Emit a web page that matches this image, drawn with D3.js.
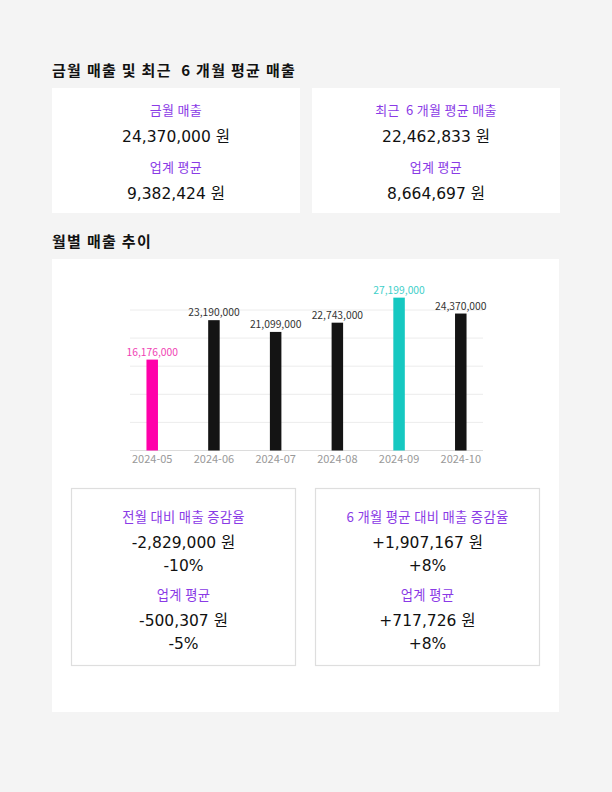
<!DOCTYPE html>
<html>
<head>
<meta charset="utf-8">
<script src="https://cdn.jsdelivr.net/npm/d3@7"></script>
<style>
  body { margin: 0; background: #f4f4f4; }
  svg { display: block; }
  text { white-space: pre; }
  .num { font-family: "DejaVu Sans", "Noto Sans CJK KR", sans-serif; fill: #111; }
  .lbl { font-family: "Noto Sans CJK KR", "DejaVu Sans", sans-serif; fill: #8a3ae6; letter-spacing: 0.3px; }
  .ttl { font-family: "Noto Sans CJK KR", sans-serif; font-weight: 700; fill: #111; letter-spacing: 1.3px; }
</style>
</head>
<body>
<svg id="page" width="612" height="792"></svg>
<script>
// monthly sales
const months = ["2024-05", "2024-06", "2024-07", "2024-08", "2024-09", "2024-10"];
const sales = [16176000, 23190000, 21099000, 22743000, 27199000, 24370000];
const gridTicks = [0, 5000000, 10000000, 15000000, 20000000, 25000000];

// summary cards (top)
const summaryLabels = ["금월 매출", "최근  6 개월 평균 매출"];
const summaryValues = ["24,370,000 원", "22,462,833 원"];
const industryValues = ["9,382,424 원", "8,664,697 원"];

// change boxes (bottom)
const changeLabels = ["전월 대비 매출 증감율", "6 개월 평균 대비 매출 증감율"];
const changeValues = ["-2,829,000 원", "+1,907,167 원"];
const changePct = ["-10%", "+8%"];
const industryChange = ["-500,307 원", "+717,726 원"];
const industryPct = ["-5%", "+8%"];

const svg = d3.select("#page");

// section titles
svg.append("text").attr("class", "ttl").attr("x", 52).attr("y", 76)
  .attr("font-size", 15).text("금월 매출 및 최근  6 개월 평균 매출");
svg.append("text").attr("class", "ttl").attr("x", 52).attr("y", 247)
  .attr("font-size", 15).text("월별 매출 추이");

// top cards
const cardX = [52, 312];
const cards = svg.selectAll(".card").data(summaryLabels).enter().append("g")
  .attr("class", "card")
  .attr("transform", (d, i) => `translate(${cardX[i]},88)`);
cards.append("rect").attr("width", 248).attr("height", 125).attr("fill", "#fff");
cards.append("text").attr("class", "lbl").attr("x", 124).attr("y", 27)
  .attr("text-anchor", "middle").attr("font-size", 13).text(d => d);
cards.append("text").attr("class", "num").attr("x", 124).attr("y", 53.5)
  .attr("text-anchor", "middle").attr("font-size", 15.5).text((d, i) => summaryValues[i]);
cards.append("text").attr("class", "lbl").attr("x", 124).attr("y", 84)
  .attr("text-anchor", "middle").attr("font-size", 13).text("업계 평균");
cards.append("text").attr("class", "num").attr("x", 124).attr("y", 110.5)
  .attr("text-anchor", "middle").attr("font-size", 15.5).text((d, i) => industryValues[i]);

// chart card
svg.append("rect").attr("x", 52).attr("y", 259).attr("width", 507).attr("height", 453)
  .attr("fill", "#fff");

const x = d3.scalePoint().domain(months).range([130, 483]).padding(0.36);
const y = d3.scaleLinear().domain([0, 25000000]).range([450.5, 310]);

const chart = svg.append("g");
chart.selectAll(".grid").data(gridTicks).enter().append("line")
  .attr("x1", 130).attr("x2", 483)
  .attr("y1", d => y(d)).attr("y2", d => y(d))
  .attr("stroke", d => d === 0 ? "#dcdcdc" : "#ececec").attr("stroke-width", 1);

const maxV = d3.max(sales), minV = d3.min(sales);
const barColor = v => v === maxV ? "#16c8c1" : v === minV ? "#ff00aa" : "#141414";
const lblColor = v => v === maxV ? "#3fcfca" : v === minV ? "#f03fb4" : "#333";

const barW = 11.5;
chart.selectAll(".bar").data(sales).enter().append("rect")
  .attr("x", (d, i) => x(months[i]) - barW / 2)
  .attr("y", d => y(d))
  .attr("width", barW)
  .attr("height", d => y(0) - y(d))
  .attr("fill", d => barColor(d));

chart.selectAll(".val").data(sales).enter().append("text")
  .attr("x", (d, i) => x(months[i]))
  .attr("y", d => y(d) - 4)
  .attr("text-anchor", "middle")
  .attr("font-family", "'Noto Sans CJK KR', 'Noto Sans', sans-serif")
  .attr("font-size", 10.3)
  .attr("fill", d => lblColor(d))
  .text(d => d3.format(",")(d));

chart.selectAll(".tick").data(months).enter().append("text")
  .attr("x", d => x(d))
  .attr("y", 463)
  .attr("text-anchor", "middle")
  .attr("font-family", "'Noto Sans CJK KR', 'Noto Sans', sans-serif")
  .attr("font-size", 11)
  .attr("fill", "#999")
  .text(d => d);

// change boxes
const boxX = [71.5, 315.5];
const boxes = svg.selectAll(".box").data(changeLabels).enter().append("g")
  .attr("transform", (d, i) => `translate(${boxX[i]},488.5)`);
boxes.append("rect").attr("width", 224).attr("height", 177)
  .attr("fill", "#fff").attr("stroke", "#dedede").attr("stroke-width", 1.2);
boxes.append("text").attr("class", "lbl").attr("x", 112).attr("y", 33)
  .attr("text-anchor", "middle").attr("font-size", 13.3).text(d => d);
boxes.append("text").attr("class", "num").attr("x", 112).attr("y", 59)
  .attr("text-anchor", "middle").attr("font-size", 15.5).text((d, i) => changeValues[i]);
boxes.append("text").attr("class", "num").attr("x", 112).attr("y", 82.5)
  .attr("text-anchor", "middle").attr("font-size", 15.5).text((d, i) => changePct[i]);
boxes.append("text").attr("class", "lbl").attr("x", 112).attr("y", 111.5)
  .attr("text-anchor", "middle").attr("font-size", 13.3).text("업계 평균");
boxes.append("text").attr("class", "num").attr("x", 112).attr("y", 137)
  .attr("text-anchor", "middle").attr("font-size", 15.5).text((d, i) => industryChange[i]);
boxes.append("text").attr("class", "num").attr("x", 112).attr("y", 160)
  .attr("text-anchor", "middle").attr("font-size", 15.5).text((d, i) => industryPct[i]);
</script>
</body>
</html>
